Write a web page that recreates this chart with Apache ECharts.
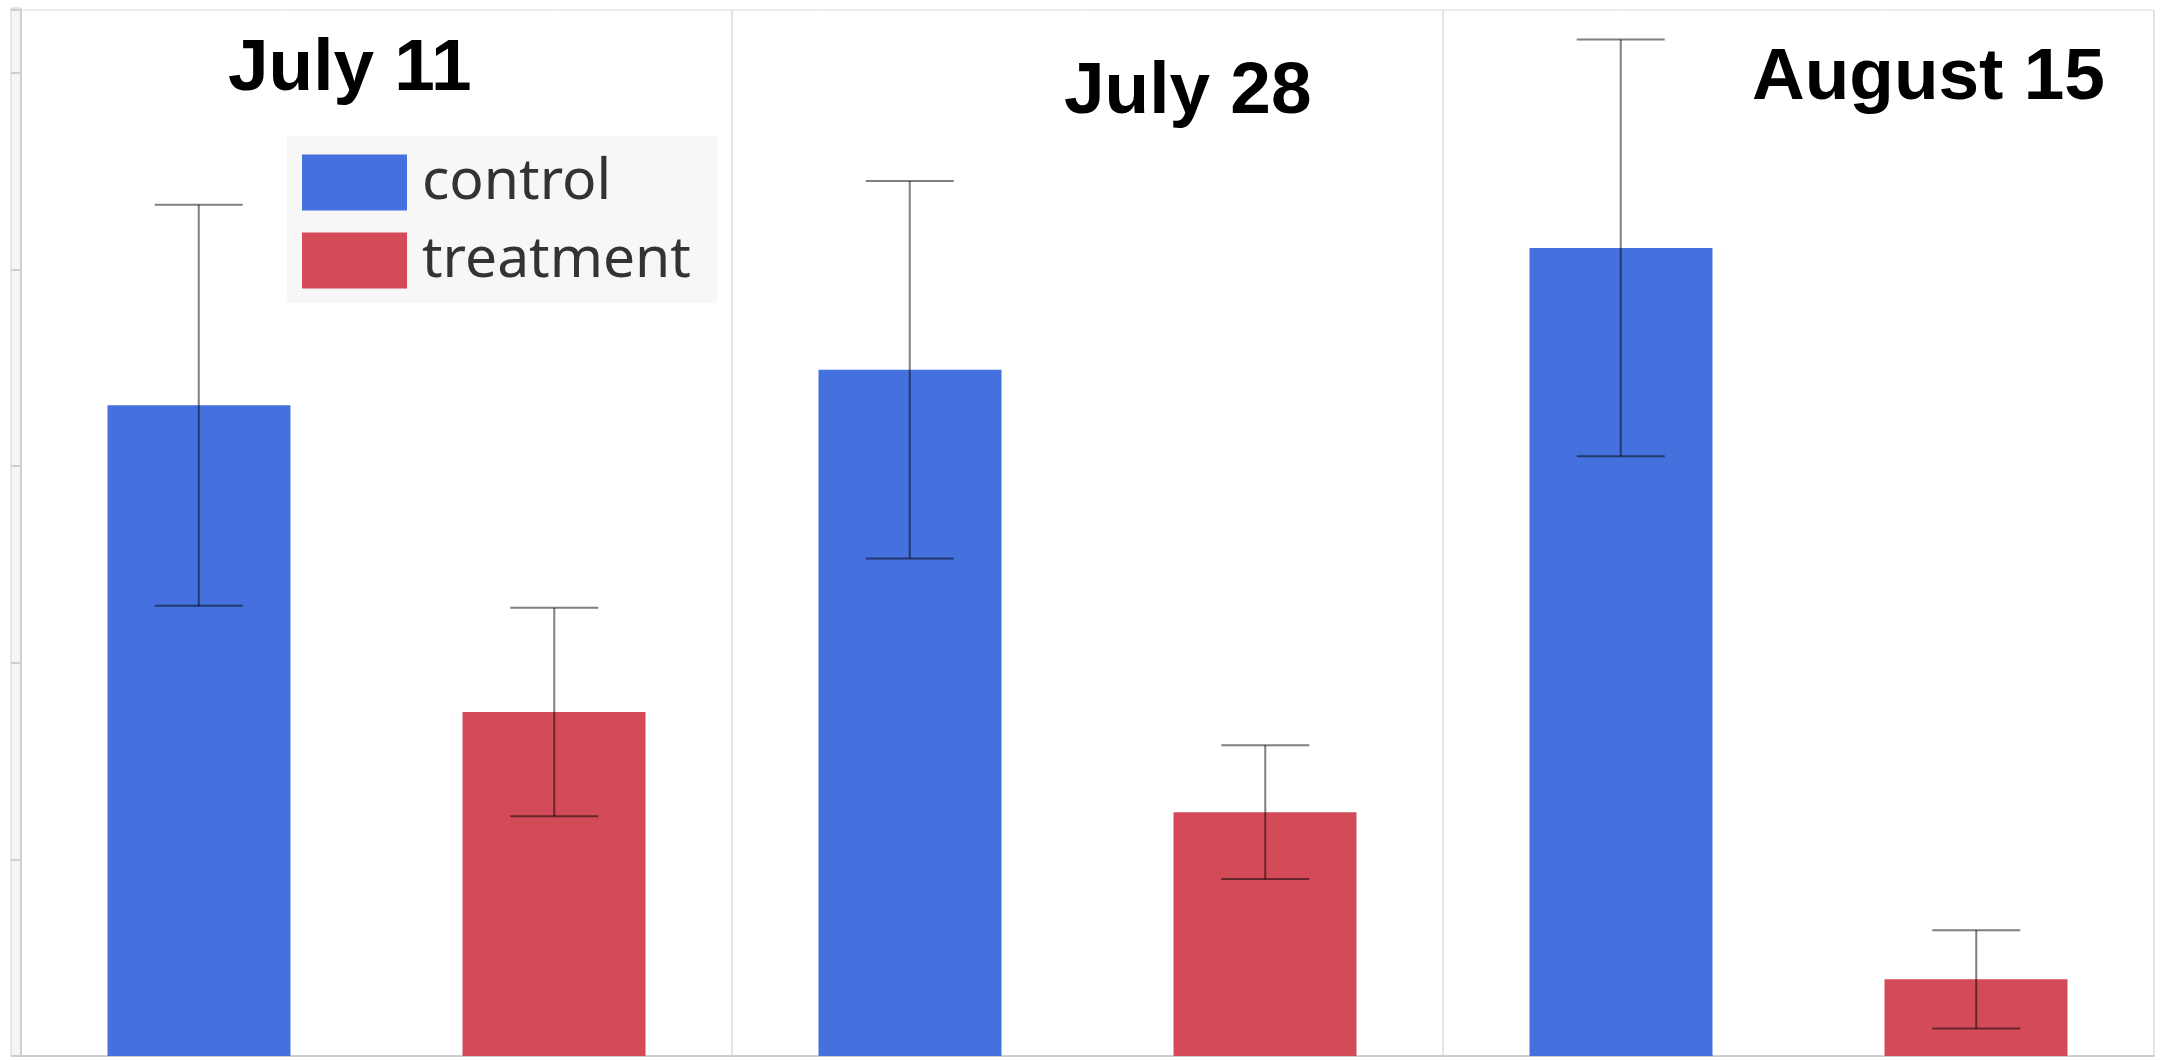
<!DOCTYPE html>
<html>
<head>
    <meta charset="utf-8">
    <title>control vs treatment</title>
    <script src="https://cdn.jsdelivr.net/npm/echarts@6/dist/echarts.min.js"></script>
    <style>
        html, body { margin: 0; padding: 0; background: #fff; }
    </style>
</head>
<body>
    <div id="c" style="width: 2167px;height:1060px;"></div>
    <script>
        // values (axis has no labels, 1 unit = one tick step)
        var categories = ['July 11', 'July 28', 'August 15'];
        var controlMean = [3.31, 3.49, 4.11];
        var controlErr = [1.02, 0.96, 1.06];
        var treatmentMean = [1.75, 1.24, 0.39];
        var treatmentErr = [0.53, 0.34, 0.25];

        // where each panel title sits (px)
        var titlePos = [[228, 33], [1064, 56], [1752, 42]];

        var blue = '#4471dd';
        var red = '#d34a59';

        function errData(mean, err) {
            return mean.map(function (m, i) {
                return [i, m - err[i], m + err[i]];
            });
        }

        // side: -1 left bar, +1 right bar
        function errRender(side) {
            return function (params, api) {
                var band = api.size([1, 0])[0];
                var lo = api.coord([api.value(0), api.value(1)]);
                var hi = api.coord([api.value(0), api.value(2)]);
                var x = lo[0] + side * band * 0.25;
                var half = 44;
                var st = { stroke: 'rgba(0,0,0,0.5)', lineWidth: 2 };
                return {
                    type: 'group',
                    children: [
                        { type: 'line', shape: { x1: x, y1: hi[1], x2: x, y2: lo[1] }, style: st },
                        { type: 'line', shape: { x1: x - half, y1: hi[1], x2: x + half, y2: hi[1] }, style: st },
                        { type: 'line', shape: { x1: x - half, y1: lo[1], x2: x + half, y2: lo[1] }, style: st }
                    ]
                };
            };
        }

        var myChart = echarts.init(document.getElementById('c'));
        var option = {
            animation: false,
            title: categories.map(function (name, i) {
                return {
                    text: name,
                    left: titlePos[i][0],
                    top: titlePos[i][1],
                    padding: 0,
                    textStyle: {
                        fontFamily: 'Liberation Sans',
                        fontWeight: 'bold',
                        fontSize: 73,
                        color: '#000'
                    }
                };
            }),
            legend: {
                orient: 'vertical',
                left: 287,
                top: 136,
                backgroundColor: '#f7f7f7',
                padding: [18, 26, 14, 15],
                itemWidth: 105,
                itemHeight: 56,
                itemGap: 21,
                icon: 'rect',
                textStyle: {
                    fontFamily: 'Noto Sans',
                    fontSize: 57,
                    lineHeight: 56,
                    color: '#333',
                    padding: [0, 0, 0, 10]
                },
                data: ['control', 'treatment']
            },
            graphic: [{
                type: 'rect',
                shape: { x: 11, y: 8, width: 10, height: 1048 },
                style: { fill: '#f5f5f5', stroke: '#d4d4d4', lineWidth: 1 },
                z: -1
            }],
            grid: {
                left: 21,
                right: 13,
                top: 10,
                bottom: 4,
                show: true,
                borderColor: '#d8d8d8',
                borderWidth: 1
            },
            xAxis: {
                type: 'category',
                data: categories,
                axisLabel: { show: false },
                axisTick: { show: false },
                axisLine: { lineStyle: { color: '#cfcfcf', width: 2 } },
                splitLine: { show: true, lineStyle: { color: '#e4e4e4', width: 2 } }
            },
            yAxis: {
                type: 'value',
                min: 0,
                max: 5.32,
                interval: 1,
                axisLabel: { show: false },
                axisLine: { show: true, lineStyle: { color: '#cfcfcf', width: 2 } },
                axisTick: { show: true, length: 10, lineStyle: { color: '#cfcfcf', width: 2 } },
                splitLine: { show: false }
            },
            series: [{
                name: 'control',
                type: 'bar',
                data: controlMean,
                barWidth: 183,
                barGap: '94%',
                itemStyle: { color: blue }
            }, {
                name: 'treatment',
                type: 'bar',
                data: treatmentMean,
                barWidth: 183,
                itemStyle: { color: red }
            }, {
                type: 'custom',
                renderItem: errRender(-1),
                data: errData(controlMean, controlErr),
                encode: { x: 0, y: [1, 2] },
                z: 10,
                silent: true
            }, {
                type: 'custom',
                renderItem: errRender(1),
                data: errData(treatmentMean, treatmentErr),
                encode: { x: 0, y: [1, 2] },
                z: 10,
                silent: true
            }]
        };
        myChart.setOption(option);
    </script>
</body>
</html>
